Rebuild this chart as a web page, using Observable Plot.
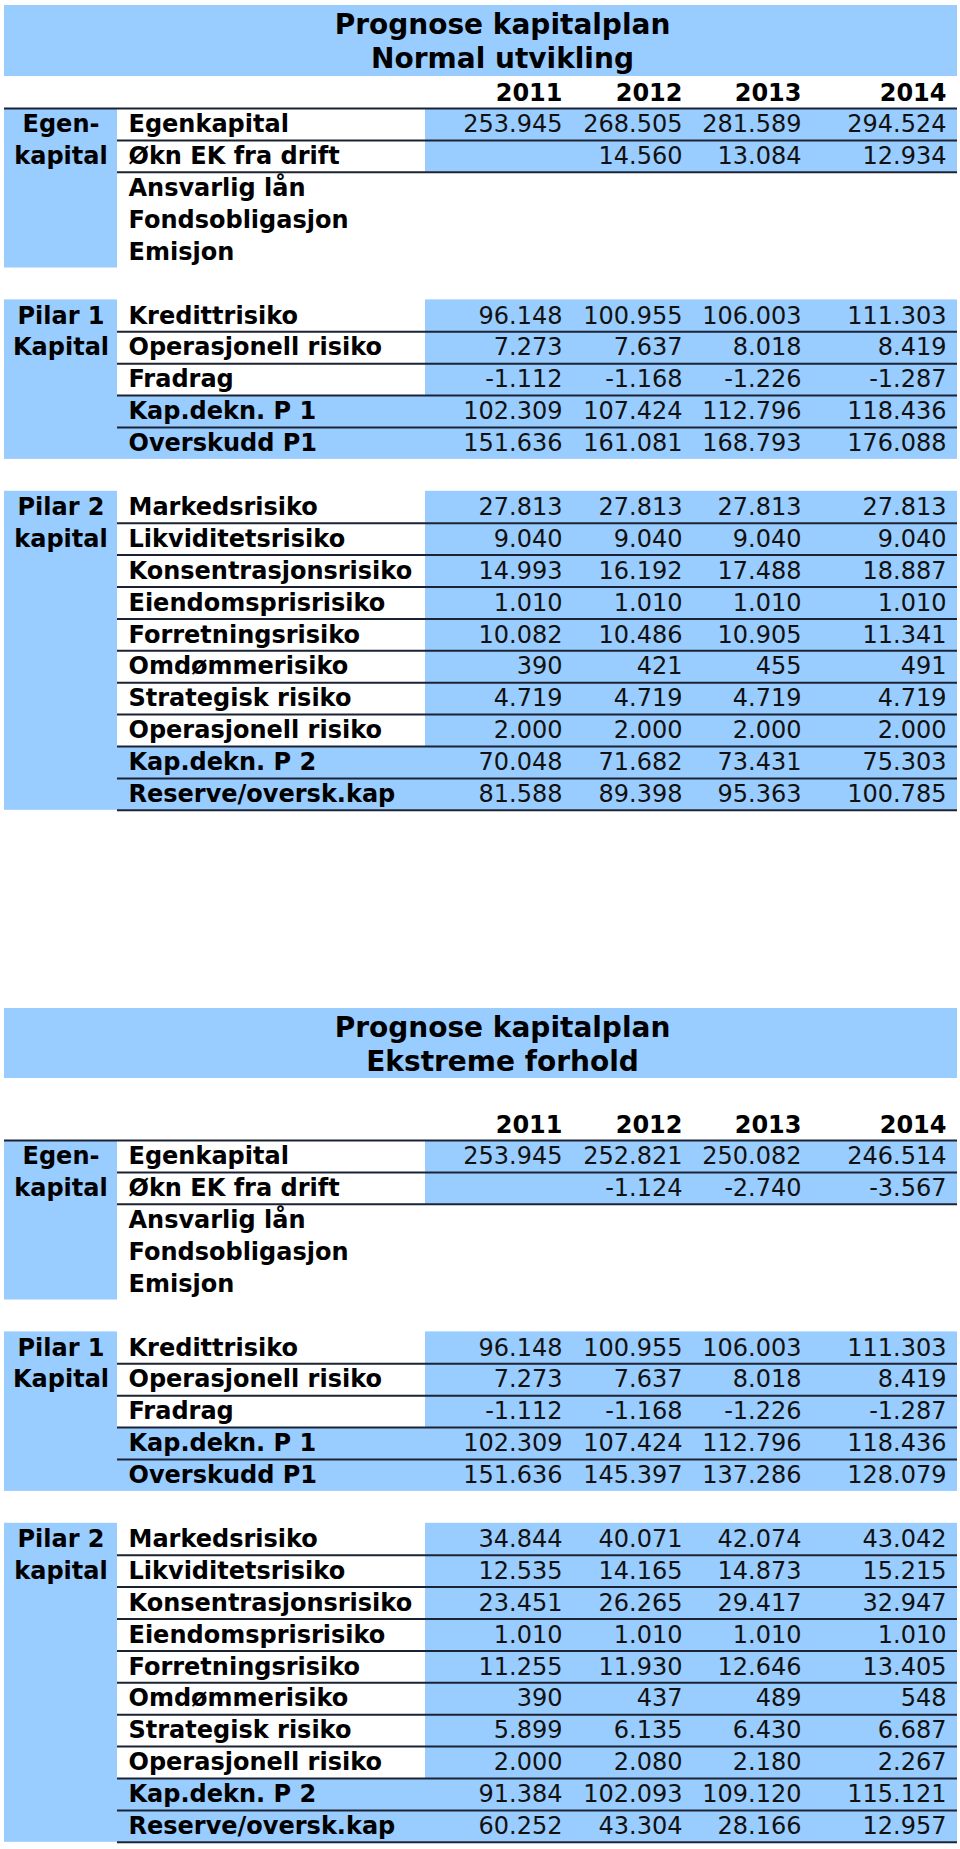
<!DOCTYPE html>
<html><head><meta charset="utf-8">
<script src="https://cdn.jsdelivr.net/npm/d3@7"></script>
<script src="https://cdn.jsdelivr.net/npm/@observablehq/plot@0.6"></script>
<style>html,body{margin:0;padding:0;background:#fff;} #chart svg{display:block;background:#fff}</style>
</head><body><div id="chart"></div>
<script>
// ---------- DATA ----------
const years = ["2011", "2012", "2013", "2014"];
const normalTitle = ["Prognose kapitalplan", "Normal utvikling"];
const extremeTitle = ["Prognose kapitalplan", "Ekstreme forhold"];
const groupLabels = [["Egen-", "kapital"], ["Pilar 1", "Kapital"], ["Pilar 2", "kapital"]];
const egenLabels = ["Egenkapital", "Økn EK fra drift", "Ansvarlig lån", "Fondsobligasjon", "Emisjon"];
const pilar1Labels = ["Kredittrisiko", "Operasjonell risiko", "Fradrag", "Kap.dekn. P 1", "Overskudd P1"];
const pilar2Labels = ["Markedsrisiko", "Likviditetsrisiko", "Konsentrasjonsrisiko", "Eiendomsprisrisiko",
  "Forretningsrisiko", "Omdømmerisiko", "Strategisk risiko", "Operasjonell risiko", "Kap.dekn. P 2", "Reserve/oversk.kap"];

const normalEgen = [
  [253945, 268505, 281589, 294524],
  [null, 14560, 13084, 12934],
  [null, null, null, null],
  [null, null, null, null],
  [null, null, null, null]
];
const normalPilar1 = [
  [96148, 100955, 106003, 111303],
  [7273, 7637, 8018, 8419],
  [-1112, -1168, -1226, -1287],
  [102309, 107424, 112796, 118436],
  [151636, 161081, 168793, 176088]
];
const normalPilar2 = [
  [27813, 27813, 27813, 27813],
  [9040, 9040, 9040, 9040],
  [14993, 16192, 17488, 18887],
  [1010, 1010, 1010, 1010],
  [10082, 10486, 10905, 11341],
  [390, 421, 455, 491],
  [4719, 4719, 4719, 4719],
  [2000, 2000, 2000, 2000],
  [70048, 71682, 73431, 75303],
  [81588, 89398, 95363, 100785]
];
const extremeEgen = [
  [253945, 252821, 250082, 246514],
  [null, -1124, -2740, -3567],
  [null, null, null, null],
  [null, null, null, null],
  [null, null, null, null]
];
const extremePilar1 = [
  [96148, 100955, 106003, 111303],
  [7273, 7637, 8018, 8419],
  [-1112, -1168, -1226, -1287],
  [102309, 107424, 112796, 118436],
  [151636, 145397, 137286, 128079]
];
const extremePilar2 = [
  [34844, 40071, 42074, 43042],
  [12535, 14165, 14873, 15215],
  [23451, 26265, 29417, 32947],
  [1010, 1010, 1010, 1010],
  [11255, 11930, 12646, 13405],
  [390, 437, 489, 548],
  [5899, 6135, 6430, 6687],
  [2000, 2080, 2180, 2267],
  [91384, 102093, 109120, 115121],
  [60252, 43304, 28166, 12957]
];

// ---------- LAYOUT / STYLE ----------
const W = 960, H = 1849;
const blue = "#99ccff", lineColor = "#1b2233";
const FONT = "'DejaVu Sans', Verdana, sans-serif";
const X = {left: 4, groupRight: 117, labelLeft: 128, labelRight: 425, right: 957, groupCenter: 60.5, titleCenter: 502};
const valueRight = [562, 682, 801, 946];
const rowH = 31.9;
const blockLabels = [egenLabels, pilar1Labels, pilar2Labels];
const blockOffset = [0, 6, 12];
const blockStyle = [
  {valueRows: [0, 1], labelRows: [], rules: [{at: 0, full: true}, {at: 1}, {at: 2}]},
  {valueRows: [0, 1, 2, 3, 4], labelRows: [3, 4], rules: [{at: 1}, {at: 2}, {at: 3}, {at: 4}]},
  {valueRows: [0,1,2,3,4,5,6,7,8,9], labelRows: [8, 9], rules: [1,2,3,4,5,6,7,8,9,10].map(at => ({at}))}
];
const tables = [
  {title: normalTitle, blocks: [normalEgen, normalPilar1, normalPilar2], bandTop: 5, bandBottom: 76, headerTop: 76, dataTop: 108, titleY: [20, 54]},
  {title: extremeTitle, blocks: [extremeEgen, extremePilar1, extremePilar2], bandTop: 1008, bandBottom: 1078, headerTop: 1108, dataTop: 1140, titleY: [20, 54]}
];

const fmt = d3.formatLocale({decimal: ",", thousands: ".", grouping: [3], currency: ["", ""], minus: "-"}).format(",d");

// ---------- BUILD MARK DATA ----------
const rects = [], rules = [], titleTexts = [], yearTexts = [], groupTexts = [], labelTexts = [], valueTexts = [];
tables.forEach(t => {
  const rowTop = r => t.dataTop + r * rowH;
  rects.push({x1: X.left, x2: X.right, y1: t.bandTop, y2: t.bandBottom});
  t.title.forEach((s, i) => titleTexts.push({x: X.titleCenter, y: t.bandTop + t.titleY[i], text: s}));
  years.forEach((yr, i) => yearTexts.push({x: valueRight[i], y: t.headerTop + rowH / 2 + 1, text: yr}));
  t.blocks.forEach((vals, b) => {
    const off = blockOffset[b], n = vals.length, st = blockStyle[b];
    rects.push({x1: X.left, x2: X.groupRight, y1: rowTop(off), y2: rowTop(off + n)});
    groupLabels[b].forEach((g, i) => groupTexts.push({x: X.groupCenter, y: rowTop(off + i) + rowH / 2, text: g}));
    st.labelRows.forEach(r => rects.push({x1: X.groupRight, x2: X.labelRight, y1: rowTop(off + r), y2: rowTop(off + r + 1)}));
    st.valueRows.forEach(r => rects.push({x1: X.labelRight, x2: X.right, y1: rowTop(off + r), y2: rowTop(off + r + 1)}));
    st.rules.forEach(rl => rules.push({y: rowTop(off + rl.at), x1: rl.full ? X.left : X.groupRight, x2: X.right}));
    blockLabels[b].forEach((lab, r) => {
      labelTexts.push({x: X.labelLeft, y: rowTop(off + r) + rowH / 2, text: lab});
      vals[r].forEach((v, c) => {
        if (v != null) valueTexts.push({x: valueRight[c], y: rowTop(off + r) + rowH / 2, text: fmt(v)});
      });
    });
  });
});

// ---------- PLOT ----------
const chart = Plot.plot({
  width: W, height: H,
  marginTop: 0, marginRight: 0, marginBottom: 0, marginLeft: 0,
  x: {type: "linear", domain: [0, W], range: [0, W], axis: null},
  y: {type: "linear", domain: [0, H], range: [0, H], axis: null},
  style: {background: "#fff"},
  marks: [
    Plot.rect(rects, {x1: "x1", x2: "x2", y1: "y1", y2: "y2", fill: blue}),
    Plot.ruleY(rules, {y: "y", x1: "x1", x2: "x2", stroke: lineColor, strokeWidth: 2}),
    Plot.text(titleTexts, {x: "x", y: "y", text: "text", textAnchor: "middle", fontFamily: FONT, fontWeight: "bold", fontSize: 28, fill: "#000"}),
    Plot.text(yearTexts, {x: "x", y: "y", text: "text", textAnchor: "end", fontFamily: FONT, fontWeight: "bold", fontSize: 24, fill: "#000"}),
    Plot.text(groupTexts, {x: "x", y: "y", text: "text", textAnchor: "middle", fontFamily: FONT, fontWeight: "bold", fontSize: 24, fill: "#000"}),
    Plot.text(labelTexts, {x: "x", y: "y", text: "text", textAnchor: "start", fontFamily: FONT, fontWeight: "bold", fontSize: 24, fill: "#000"}),
    Plot.text(valueTexts, {x: "x", y: "y", text: "text", textAnchor: "end", fontFamily: FONT, fontWeight: "normal", fontSize: 24, fill: "#111"})
  ]
});
document.getElementById("chart").appendChild(chart);
</script>
</body></html>
